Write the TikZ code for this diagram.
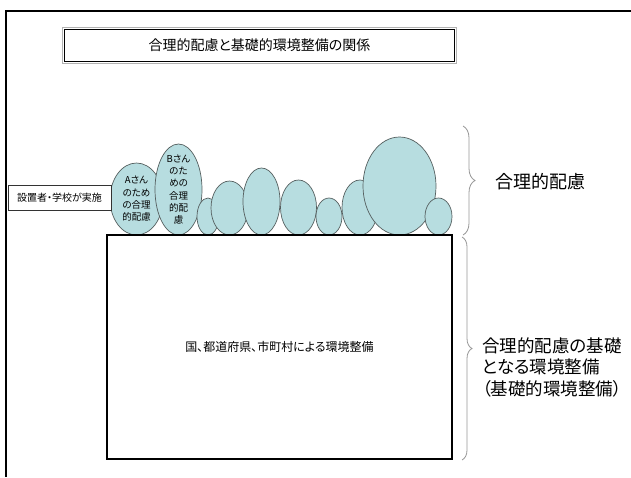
\documentclass[tikz,border=0pt]{standalone}
\usepackage{fontspec}
\setmainfont{Noto Sans CJK JP}[RawFeature=+palt]
\usetikzlibrary{shapes.geometric,decorations.pathreplacing}
\definecolor{blobfill}{RGB}{183,221,224}
\definecolor{blobline}{RGB}{85,95,95}
\definecolor{bracecol}{RGB}{150,150,150}
\tikzset{
  blob/.style={ellipse, draw=blobline, fill=blobfill, line width=0.7pt, inner sep=0pt, outer sep=0pt},
  blobtext/.style={align=center, inner sep=0pt, font=\fontsize{9.5}{12.3}\selectfont},
  bracestyle/.style={draw=bracecol, line width=0.8pt, decorate},
}
\begin{document}
\begin{tikzpicture}[x=1pt,y=-1pt]
\useasboundingbox (0,0) rectangle (631,477);
% outer frame
\draw[line width=1.4pt] (631,11) -- (6,11) -- (6,477);
% title
\node[draw=gray!60, line width=1.8pt, minimum width=394pt, minimum height=36pt, inner sep=0pt,
      font=\fontsize{14}{16}\selectfont] (title) at (259.5,45.5) {合理的配慮と基礎的環境整備の関係};
\draw[line width=0.7pt] ([xshift=2.6pt,yshift=-2.6pt]title.north west) rectangle ([xshift=-2.6pt,yshift=2.6pt]title.south east);
% ellipses
\node[blob, minimum width=53pt, minimum height=72pt] (ea) at (136.5,199) {};
\node[blob, minimum width=47pt, minimum height=91pt] (eb) at (178.5,189.5) {};
\node[blob, minimum width=22pt, minimum height=37pt] (e3) at (208,216.5) {};
\node[blob, minimum width=37pt, minimum height=54pt] (e4) at (229.5,208) {};
\node[blob, minimum width=37pt, minimum height=67pt] (e5) at (261.5,201.5) {};
\node[blob, minimum width=36pt, minimum height=55pt] (e6) at (298.5,207.5) {};
\node[blob, minimum width=26pt, minimum height=37pt] (e7) at (329,216.5) {};
\node[blob, minimum width=36pt, minimum height=55pt] (e8) at (360,207.5) {};
\node[blob, minimum width=73pt, minimum height=98pt] (e9) at (399.5,186) {};
\node[blob, minimum width=27pt, minimum height=37pt] (e10) at (438.5,216.5) {};
\node[blobtext] (ta) at (ea.center) {Aさん\\のため\\の合理\\的配慮};
\node[blobtext] (tb) at (eb.center) {Bさん\\のた\\めの\\合理\\的配\\慮};
% actor box
\node[draw=black!80, line width=0.6pt, fill=white, minimum width=103pt, minimum height=25pt, inner sep=0pt,
      font=\fontsize{10}{12}\selectfont] (actor) at (59.5,197.5) {設置者・学校が実施};
% main box
\node[draw, line width=2.4pt, fill=white, minimum width=345pt, minimum height=224pt, inner sep=0pt,
      font=\fontsize{12}{14}\selectfont] (base) at (279.5,347) {国、都道府県、市町村による環境整備};
% braces
\coordinate (b1s) at (463,126);
\coordinate (b1e) at (463,235);
\coordinate (b2s) at (462,237);
\coordinate (b2e) at (462,460);
\draw[bracestyle, decoration={brace, amplitude=12pt}] (b1s) -- (b1e);
\draw[bracestyle, decoration={brace, amplitude=10pt}] (b2s) -- (b2e);
% labels
\node[anchor=west, inner sep=0pt, font=\fontsize{18}{21}\selectfont] (lab1) at (495,182) {合理的配慮};
\node[anchor=west, align=left, inner sep=0pt, font=\fontsize{17.5}{21.5}\selectfont] (lab2) at (482,367)
  {合理的配慮の基礎\\となる環境整備\\（基礎的環境整備）};
\end{tikzpicture}
\end{document}
